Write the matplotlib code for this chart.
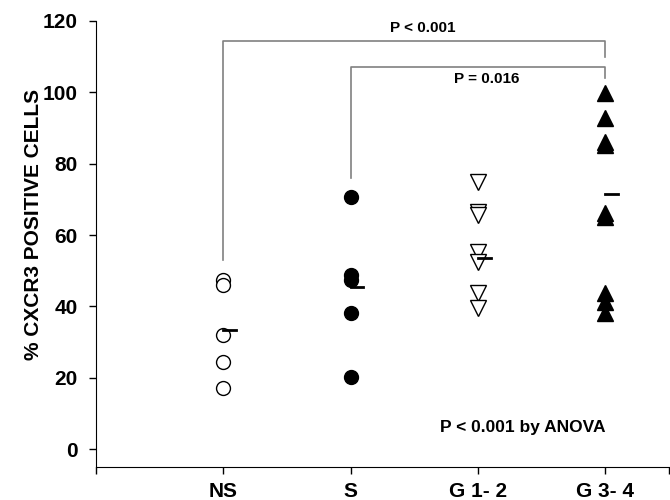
import matplotlib
matplotlib.use("Agg")
import matplotlib.pyplot as plt

plt.rcParams['font.family'] = ['Liberation Sans', 'DejaVu Sans']
plt.rcParams['font.weight'] = 'bold'

groups = ['NS', 'S', 'G 1- 2', 'G 3- 4']
ns = [47.4, 46.0, 32.0, 24.4, 17.1]
s = [70.6, 48.8, 47.4, 38.1, 20.2]
g12 = [74.9, 66.4, 65.6, 55.2, 52.4, 43.7, 39.5]
g34 = [99.8, 92.8, 86.1, 85.2, 66.2, 65.0, 43.7, 41.2, 38.1]
means = [33.4, 45.4, 53.5, 71.5]

fig = plt.figure(figsize=(6.7, 5), dpi=100)
ax = fig.add_axes([0.1433, 0.066, 0.855, 0.892])

ax.plot([1] * len(ns), ns, 'o', ms=10, mfc='white', mec='black', mew=1)
ax.plot([2] * len(s), s, 'o', ms=10, mfc='black', mec='black')
ax.plot([3] * len(g12), g12, 'v', ms=11, mfc='white', mec='black', mew=1)
ax.plot([4] * len(g34), g34, '^', ms=11, mfc='black', mec='black')

for i, m in enumerate(means):
    ax.plot([i + 1, i + 1.1], [m, m], color='black', lw=2)

# significance brackets
gray = '#808080'
ax.plot([1, 1, 4, 4], [53, 114.4, 114.4, 110], color=gray, lw=1.2)
ax.plot([2, 2, 4, 4], [76, 107.1, 107.1, 104], color=gray, lw=1.2)
ax.text(2.57, 116.0, 'P < 0.001', ha='center', va='bottom', fontsize=11, fontweight='bold')
ax.text(3.07, 103.8, 'P = 0.016', ha='center', va='center', fontsize=11, fontweight='bold')
ax.text(3.35, 6.2, 'P < 0.001 by ANOVA', ha='center', va='center', fontsize=12.5, fontweight='bold')

ax.set_xlim(0, 4.5)
ax.set_ylim(-5, 120)
ax.set_xticks([0, 1, 2, 3, 4, 4.5])
ax.set_xticklabels([''] + groups + [''])
ax.set_yticks(range(0, 121, 20))
ax.tick_params(axis='both', labelsize=15, direction='out', length=5, width=1)
ax.tick_params(axis='x', pad=6)
ax.tick_params(axis='y', pad=8)
for lab in ax.get_xticklabels() + ax.get_yticklabels():
    lab.set_fontweight('bold')

ax.spines['top'].set_visible(False)
ax.spines['right'].set_visible(False)
ax.set_ylabel('% CXCR3 POSITIVE CELLS', fontsize=15, fontweight='bold')
ax.yaxis.set_label_coords(-0.0925, 0.544)

fig.savefig('out.png', dpi=100)
